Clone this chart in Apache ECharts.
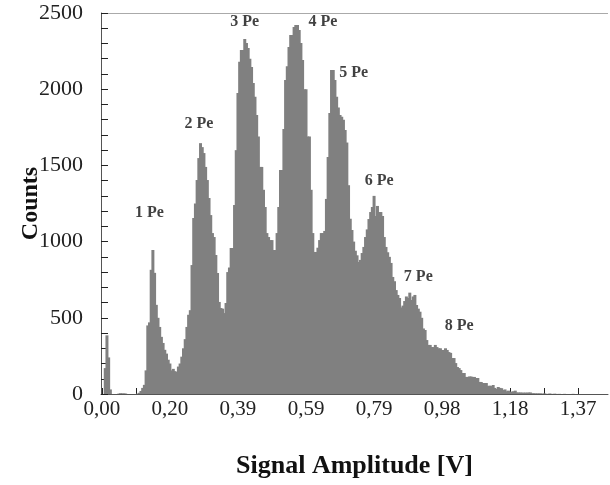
<!DOCTYPE html>
<html>
<head>
<meta charset="utf-8">
<script src="https://cdn.jsdelivr.net/npm/echarts@6/dist/echarts.min.js"></script>
<style>
html,body{margin:0;padding:0;background:#fff;}
#chart{width:610px;height:485px;}
</style>
</head>
<body>
<div id="chart"></div>
<script>
// Histogram counts per bin (bin width ~0.00491 V)
const counts = [
  0, 0, 170, 385, 240, 30, 0, 0, 0, 0,
  3, 5, 4, 4, 3, 0, 0, 0, 0, 0,
  0, 3, 8, 20, 40, 60, 155, 450, 470, 815,
  945, 795, 585, 500, 440, 375, 335, 290, 265, 225,
  200, 155, 165, 150, 145, 180, 200, 245, 300, 360,
  440, 520, 550, 846, 1155, 1250, 1404, 1548, 1646, 1620,
  1581, 1490, 1404, 1286, 1174, 1056, 1030, 912, 794, 604,
  564, 560, 531, 597, 800, 830, 958, 958, 1240, 1600,
  1975, 2180, 2257, 2257, 2330, 2303, 2270, 2200, 2146, 2040,
  1950, 1830, 1690, 1490, 1490, 1340, 1227, 1056, 1030, 1010,
  1010, 945, 945, 1056, 1227, 1470, 1470, 1739, 2060, 2150,
  2277, 2356, 2356, 2408, 2421, 2421, 2388, 2303, 2192, 2000,
  2000, 1690, 1690, 1340, 1056, 932, 932, 960, 1010, 1056,
  1056, 1070, 1280, 1555, 1844, 2126, 2126, 2060, 1950, 1880,
  1830, 1820, 1800, 1732, 1650, 1370, 1150, 1076, 1000, 940,
  910, 866, 880, 925, 965, 1030, 1080, 1148, 1194, 1227,
  1300, 1168, 1234, 1194, 1194, 1168, 1030, 965, 930, 900,
  860, 768, 740, 682, 650, 630, 568, 580, 610, 640,
  630, 665, 617, 640, 650, 584, 560, 540, 500, 430,
  420, 354, 322, 322, 308, 308, 322, 308, 300, 300,
  289, 289, 300, 289, 275, 270, 236, 236, 203, 177,
  170, 157, 138, 138, 112, 112, 115, 115, 112, 112,
  105, 105, 79, 79, 72, 72, 72, 52, 55, 52,
  59, 40, 33, 46, 40, 38, 26, 30, 18, 22,
  15, 15, 18, 22, 10, 10, 10, 9, 9, 9,
  9, 10, 10, 5, 5, 4, 4, 4, 4, 2,
  4, 2, 0, 3, 2, 0, 2, 1, 0, 1,
  0, 0, 1, 0, 0, 0, 0, 1, 0, 0,
  0, 0, 0, 0, 0, 0, 0, 0, 0, 0,
  0, 0, 0, 0, 0, 0, 0, 0
];
const binsPerLabel = 40;
const tickLabels = ['0,00', '0,20', '0,39', '0,59', '0,79', '0,98', '1,18', '1,37'];
const categories = counts.map((_, i) => 'b' + i);

// Peak annotations: text, bin index, count level
const peakNames = ['1 Pe', '2 Pe', '3 Pe', '4 Pe', '5 Pe', '6 Pe', '7 Pe', '8 Pe'];
const peakBins = [28, 57, 84, 130, 148, 163, 186, 210];
const peakLevels = [1190, 1770, 2440, 2440, 2110, 1400, 770, 450];

const chart = echarts.init(document.getElementById('chart'), null, {renderer: 'canvas'});
const serif = '"Liberation Serif", "DejaVu Serif", serif';
chart.setOption({
  animation: false,
  grid: {left: 101, right: 2, top: 13, bottom: 91, containLabel: false},
  xAxis: {
    type: 'category',
    data: categories,
    boundaryGap: true,
    axisLine: {show: true, lineStyle: {color: '#555', width: 1}},
    axisTick: {show: true, inside: true, length: 6, alignWithLabel: true,
      interval: (i) => i % (binsPerLabel / 2) === 0,
      lineStyle: {color: '#222'}},
    axisLabel: {
      interval: (i) => i % binsPerLabel === 0,
      formatter: (v, i) => tickLabels[i / binsPerLabel] || '',
      fontFamily: serif, fontSize: 21, color: '#222', margin: 5
    },
    splitLine: {show: false},
    name: 'Signal Amplitude [V]',
    nameLocation: 'middle',
    nameGap: 59,
    nameMoveOverlap: false,
    nameTextStyle: {fontFamily: serif, fontSize: 26, fontWeight: 'bold', color: '#111'}
  },
  yAxis: {
    type: 'value',
    min: 0, max: 2500, interval: 500,
    axisLine: {show: true, lineStyle: {color: '#555', width: 1}},
    axisTick: {show: true, inside: true, length: 7, lineStyle: {color: '#222'}},
    minorTick: {show: true, splitNumber: 5, length: 7, lineStyle: {color: '#222'}},
    axisLabel: {fontFamily: serif, fontSize: 22, color: '#222', margin: 18,
      formatter: (v) => String(v)},
    splitLine: {show: true, lineStyle: {color: ['rgba(0,0,0,0)', 'rgba(0,0,0,0)', 'rgba(0,0,0,0)', 'rgba(0,0,0,0)', 'rgba(0,0,0,0)', '#aaa']}},
    name: 'Counts',
    nameLocation: 'middle',
    nameGap: 58,
    nameRotate: 90,
    nameMoveOverlap: false,
    nameTextStyle: {fontFamily: serif, fontSize: 24, fontWeight: 'bold', color: '#111'}
  },
  series: [
    {
      type: 'bar',
      data: counts,
      barWidth: 3,
      itemStyle: {color: '#808080'},
      silent: true
    },
    {
      type: 'scatter',
      data: peakNames.map((n, k) => [peakBins[k], peakLevels[k], n]),
      symbolSize: 0,
      label: {
        show: true, position: 'inside',
        formatter: (p) => p.data[2],
        fontFamily: serif, fontSize: 16, fontWeight: 'bold', color: '#111'
      },
      silent: true
    }
  ]
});
</script>
</body>
</html>
